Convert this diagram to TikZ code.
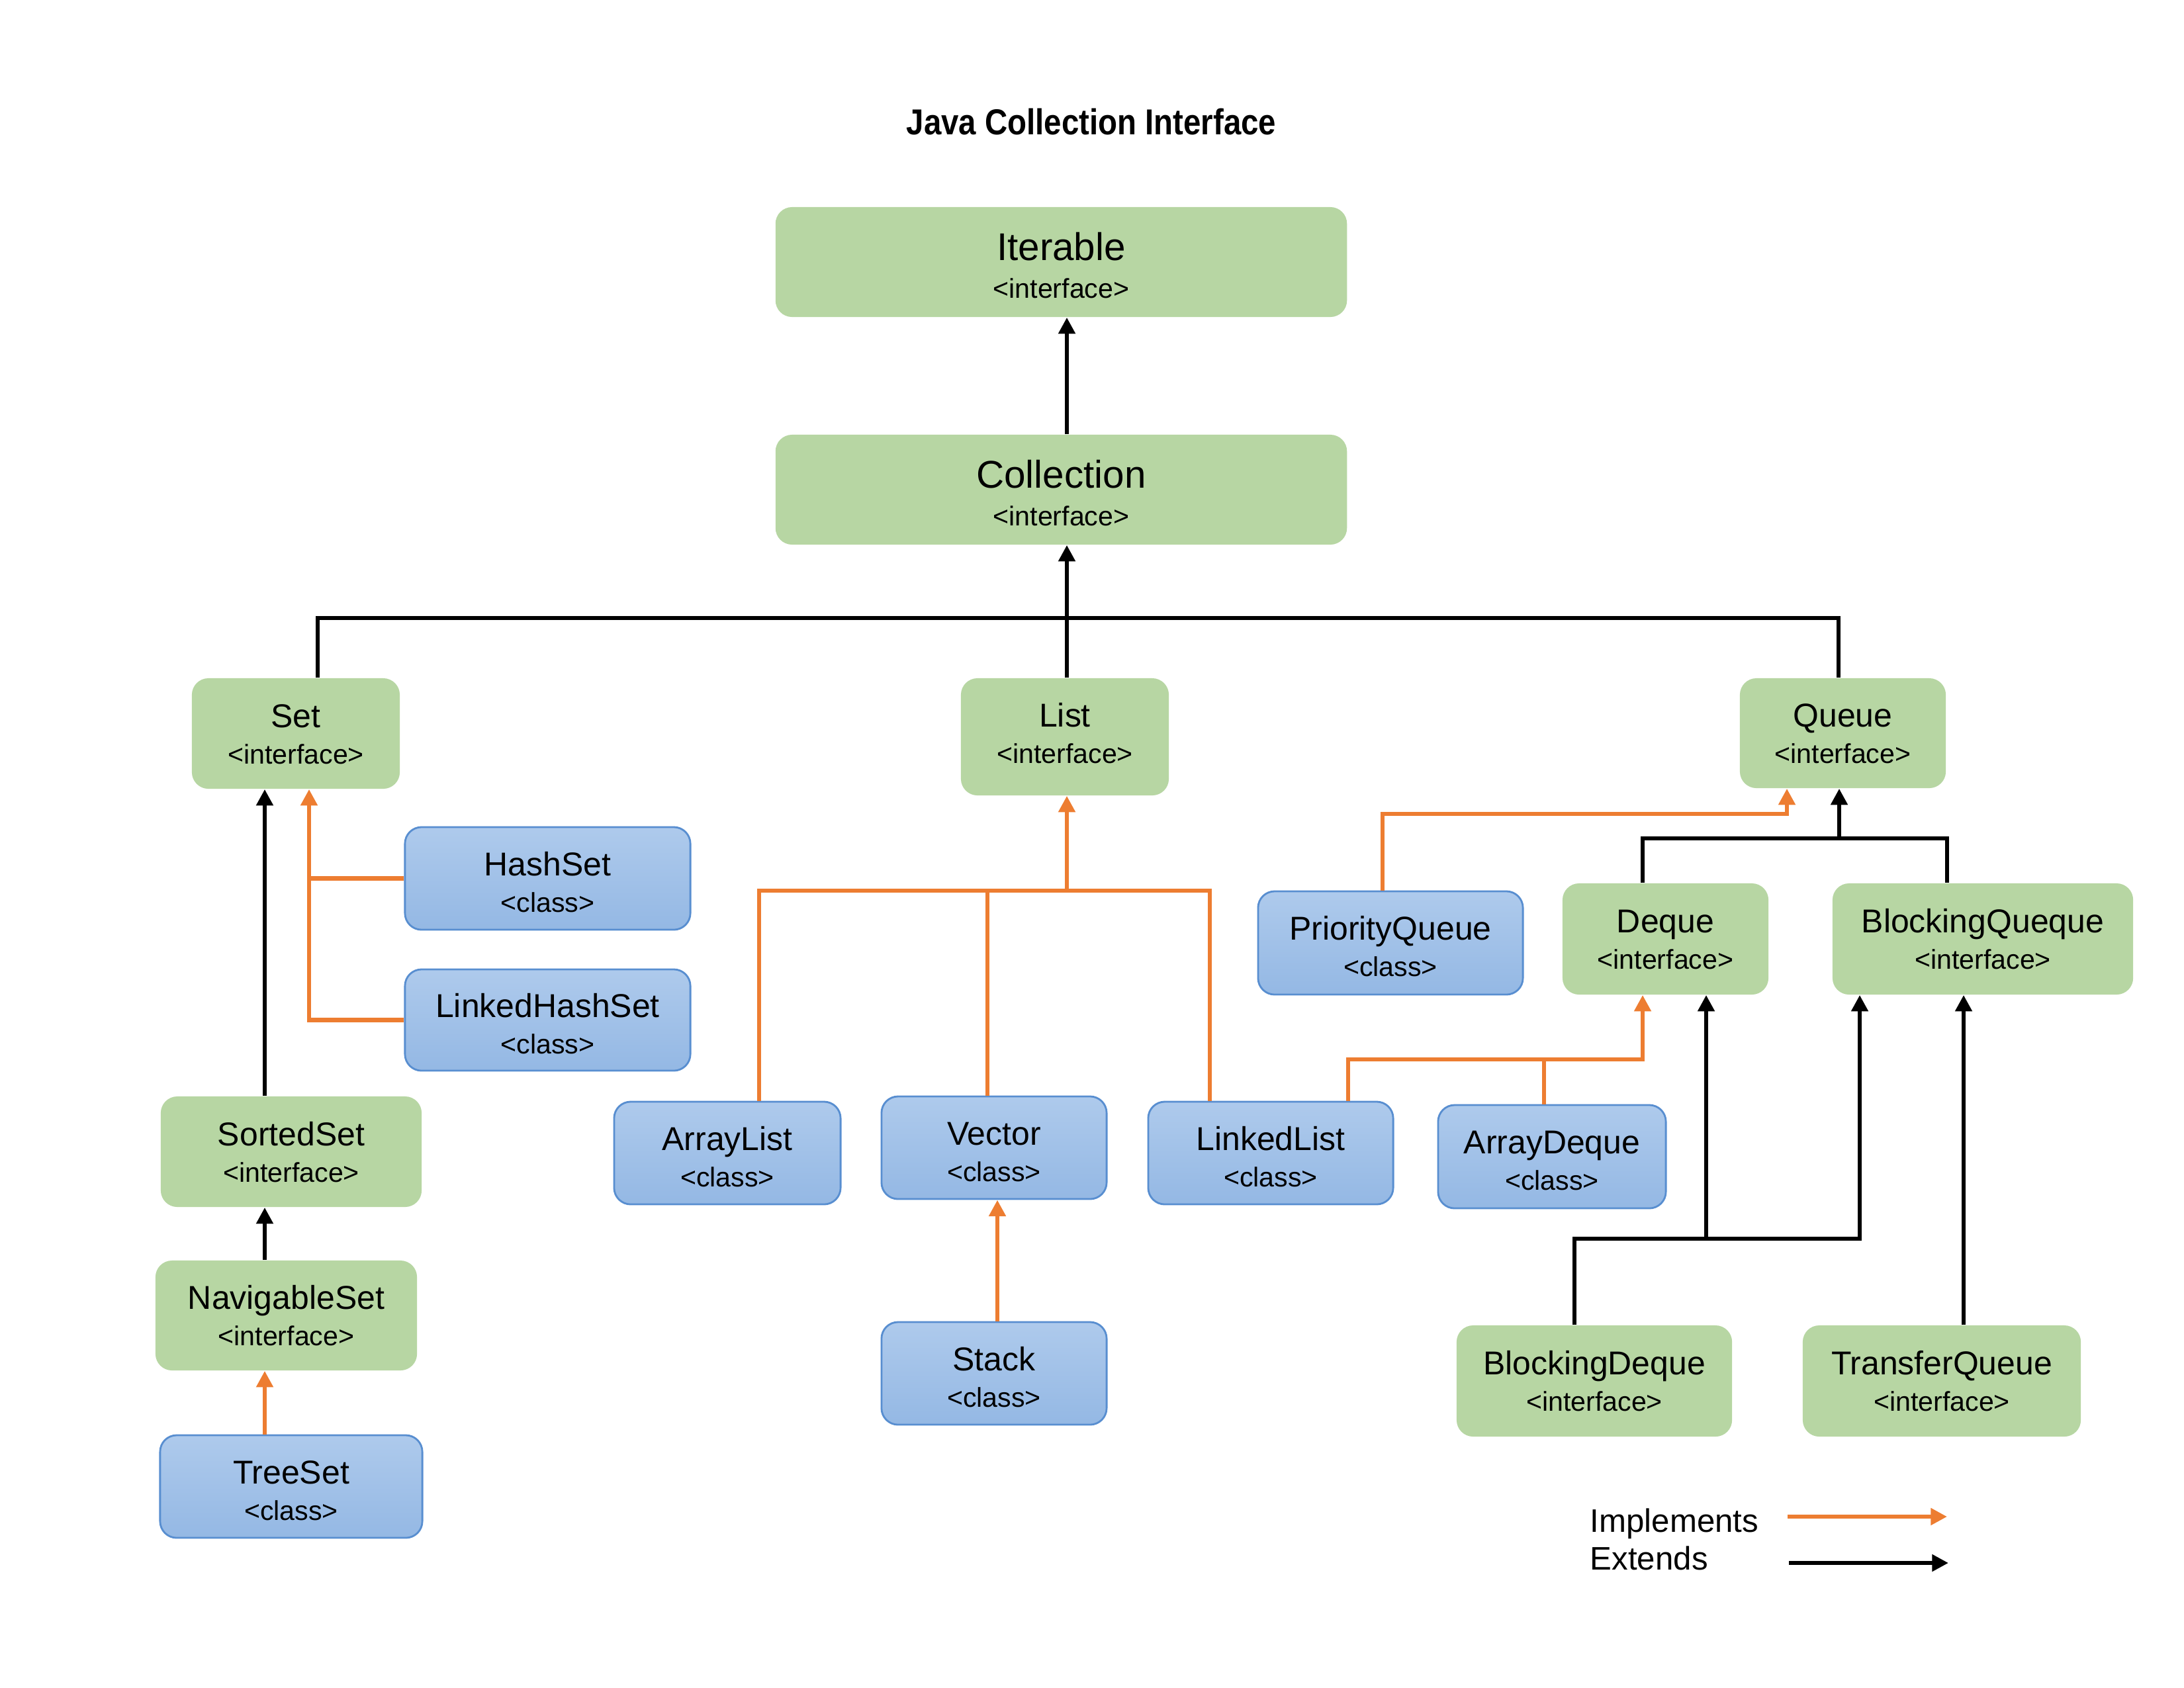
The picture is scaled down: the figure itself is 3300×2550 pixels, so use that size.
\documentclass[tikz,border=0pt]{standalone}
\usepackage{fontspec}
\setmainfont{Liberation Sans}
\newfontfamily\titlefont[FakeStretch=0.87]{Liberation Sans}
\usetikzlibrary{arrows.meta}
\definecolor{ifacegreen}{RGB}{183,214,163}
\definecolor{clstop}{RGB}{174,202,236}
\definecolor{clsbot}{RGB}{148,184,228}
\definecolor{clsedge}{RGB}{88,142,208}
\definecolor{implorange}{RGB}{237,125,49}
\newcommand{\kind}[1]{{\fontsize{11.7}{15.6}\selectfont<#1>}}

\begin{document}
\begin{tikzpicture}[x=0.01cm,y=-0.01cm,
    box/.style={rounded corners=0.25cm, align=center, inner sep=0pt, text depth=0pt, font=\fontsize{14.2}{15.6}\selectfont},
    dims/.style 2 args={minimum width=#1cm, minimum height=#2cm},
    iface/.style={box, text height=25.9pt, fill=ifacegreen},
    topface/.style={iface, text height=31.2pt, font=\fontsize{16.6}{16.2}\selectfont},
    cls/.style={box, text height=28.9pt, draw=clsedge, line width=0.8pt, top color=clstop, bottom color=clsbot},
    conn/.style={line width=1.8pt},
    ext/.style={conn, -{Triangle[length=7pt,width=7pt]}},
    implline/.style={conn, implorange},
    impl/.style={implline, -{Triangle[length=7pt,width=7pt]}},
    legend/.style={anchor=base west, inner sep=0pt, font=\fontsize{14}{16}\selectfont}]
    \useasboundingbox (0,0) rectangle (3300,2550);
    \node[anchor=base, font=\titlefont\bfseries\fontsize{15.5}{18}\selectfont] (title) at (1649,203.6) {Java Collection Interface};
    \node[topface, dims={8.63}{1.66}] (iter) at (1603.5,396) {Iterable\\\kind{interface}};
    \node[topface, dims={8.63}{1.66}] (coll) at (1603.5,740) {Collection\\\kind{interface}};
    \node[iface, dims={3.14}{1.67}] (set) at (447,1108.5) {Set\\\kind{interface}};
    \node[iface, dims={3.14}{1.77}, text height=22.5pt] (list) at (1609,1113.5) {List\\\kind{interface}};
    \node[iface, dims={3.11}{1.66}] (queue) at (2784.5,1108) {Queue\\\kind{interface}};
    \node[cls, dims={4.31}{1.55}] (hset) at (827.5,1327.5) {HashSet\\\kind{class}};
    \node[cls, dims={4.31}{1.53}] (lhset) at (827.5,1541.5) {LinkedHashSet\\\kind{class}};
    \node[iface, dims={3.94}{1.67}] (sset) at (440,1740.5) {SortedSet\\\kind{interface}};
    \node[iface, dims={3.95}{1.66}] (nset) at (432.5,1988) {NavigableSet\\\kind{interface}};
    \node[cls, dims={3.96}{1.55}] (tset) at (440,2246.5) {TreeSet\\\kind{class}};
    \node[cls, dims={3.42}{1.55}] (alist) at (1099,1742.5) {ArrayList\\\kind{class}};
    \node[cls, dims={3.40}{1.55}] (vec) at (1502,1734.5) {Vector\\\kind{class}};
    \node[cls, dims={3.40}{1.55}] (stack) at (1502,2075.5) {Stack\\\kind{class}};
    \node[cls, dims={3.70}{1.55}] (llist) at (1920,1742.5) {LinkedList\\\kind{class}};
    \node[cls, dims={3.44}{1.56}] (adeque) at (2345,1748) {ArrayDeque\\\kind{class}};
    \node[cls, dims={4.00}{1.56}] (pqueue) at (2101,1425) {PriorityQueue\\\kind{class}};
    \node[iface, dims={3.11}{1.68}] (deque) at (2516.5,1419) {Deque\\\kind{interface}};
    \node[iface, dims={4.54}{1.68}] (bqueue) at (2996,1419) {BlockingQueque\\\kind{interface}};
    \node[iface, dims={4.16}{1.68}] (bdeque) at (2409,2087) {BlockingDeque\\\kind{interface}};
    \node[iface, dims={4.20}{1.68}] (tqueue) at (2934,2087) {TransferQueue\\\kind{interface}};
    \coordinate (cbus) at (1612,934);
    \coordinate (lbus) at (1612,1346);
    \coordinate (qbus) at (2779,1267);
    \coordinate (dbus) at (2482,1601);
    \draw[ext] (coll.north -| cbus) -- (iter.south -| cbus);
    \draw[ext] (list.north -| cbus) -- (coll.south -| cbus);
    \draw[conn] (set.north -| 480,0) |- (cbus) -| (queue.north -| 2778,0);
    \draw[ext] (sset.north -| 400,0) -- (set.south -| 400,0);
    \draw[impl] (lhset.west) -| (set.south -| 467,0);
    \draw[implline] (hset.west) -- (hset.west -| 467,0);
    \draw[ext] (nset.north -| 400,0) -- (sset.south -| 400,0);
    \draw[impl] (tset.north -| 400,0) -- (nset.south -| 400,0);
    \draw[impl] (lbus) -- (list.south -| lbus);
    \draw[implline] (alist.north -| 1147,0) |- (lbus) -| (llist.north -| 1828,0);
    \draw[implline] (vec.north -| 1492,0) -- (1492,1346);
    \draw[impl] (stack.north -| 1507,0) -- (vec.south -| 1507,0);
    \draw[impl] (pqueue.north -| 2089,0) |- (2700,1230) -- (queue.south -| 2700,0);
    \draw[ext] (qbus) -- (queue.south -| qbus);
    \draw[conn] (deque.north -| 2482,0) |- (qbus) -| (bqueue.north -| 2942,0);
    \draw[impl] (llist.north -| 2037,0) |- (dbus) -- (deque.south -| dbus);
    \draw[implline] (adeque.north -| 2333,0) -- (2333,1601);
    \draw[ext] (bdeque.north -| 2379,0) |- (2810,1872) -- (bqueue.south -| 2810,0);
    \draw[ext] (2578,1872) -- (deque.south -| 2578,0);
    \draw[ext] (tqueue.north -| 2967,0) -- (bqueue.south -| 2967,0);
    \node[legend] (limpl) at (2402,2315) {Implements};
    \node[legend] (lext) at (2402,2372) {Extends};
    \coordinate (limpla) at (2701,2292);
    \coordinate (limplb) at (2942,2292);
    \coordinate (lexta) at (2703,2362);
    \coordinate (lextb) at (2944,2362);
    \draw[impl] (limpla) -- (limplb);
    \draw[ext] (lexta) -- (lextb);
\end{tikzpicture}
\end{document}
